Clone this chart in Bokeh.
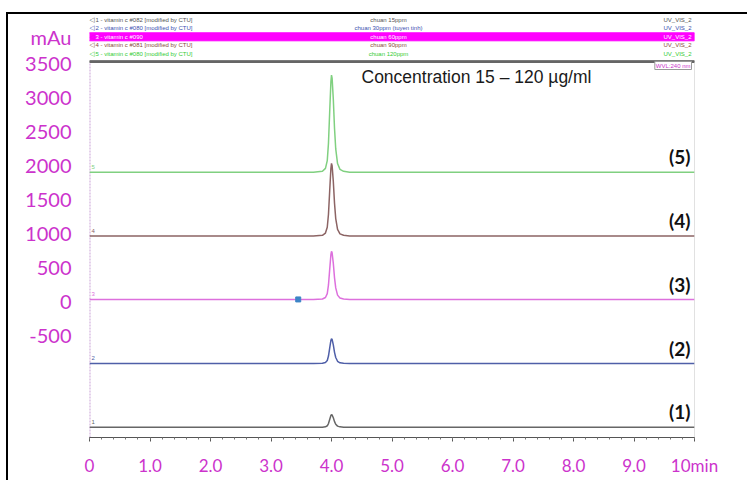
from bokeh.plotting import figure
from bokeh.models import Range1d, FixedTicker, Label
from bokeh.embed import file_html
from bokeh.resources import INLINE
from bokeh.core.properties import value

# ---------------- data ----------------
time_min = [0.0, 3.70, 3.85, 3.90, 3.93, 3.95, 3.97, 3.99, 4.00, 4.01,
            4.03, 4.05, 4.07, 4.10, 4.14, 4.20, 4.30, 10.0]

trace1_15ppm = [-1850, -1850, -1848, -1843, -1828, -1795, -1735, -1678, -1665, -1670,
                -1711, -1767, -1806, -1833, -1844, -1848, -1850, -1850]
trace2_30ppm = [-915, -915, -911, -900, -871, -805, -689, -576, -550, -561,
                -641, -751, -827, -882, -904, -911, -915, -915]
trace3_60ppm = [25, 25, 32, 53, 110, 237, 462, 681, 730, 709,
                554, 342, 194, 88, 46, 32, 25, 25]
trace4_90ppm = [955, 955, 966, 998, 1083, 1275, 1615, 1945, 2020, 1988,
                1754, 1434, 1211, 1051, 987, 966, 955, 955]
trace5_120ppm = [1890, 1890, 1904, 1947, 2061, 2318, 2774, 3215, 3315, 3272,
                 2959, 2531, 2232, 2018, 1933, 1904, 1890, 1890]

traces = [trace1_15ppm, trace2_30ppm, trace3_60ppm, trace4_90ppm, trace5_120ppm]
baselines = [-1850, -915, 25, 955, 1890]
trace_tags = ["(1)", "(2)", "(3)", "(4)", "(5)"]
trace_numbers = ["1", "2", "3", "4", "5"]
trace_colors = ["#666666", "#4f5fa8", "#dd70dd", "#8c6464", "#80d080"]

marker_time = [3.45]
marker_signal = [25]

y_ticks = [-500, 0, 500, 1000, 1500, 2000, 2500, 3000, 3500]
y_tick_labels = ["-500", "0", "500", "1000", "1500", "2000", "2500", "3000", "3500"]
x_ticks = [0, 1, 2, 3, 4, 5, 6, 7, 8, 9, 10]
x_tick_labels = ["0", "1.0", "2.0", "3.0", "4.0", "5.0", "6.0", "7.0", "8.0", "9.0", "10min"]
unit_label = "mAu"

legend_files = ["1 - vitamin c #082 [modified by CTU]",
                "2 - vitamin c #080 [modified by CTU]",
                "3 - vitamin c #090",
                "4 - vitamin c #081 [modified by CTU]",
                "5 - vitamin c #080 [modified by CTU]"]
legend_samples = ["chuan 15ppm", "chuan 30ppm (tuyen tinh)", "chuan 60ppm",
                  "chuan 90ppm", "chuan 120ppm"]
legend_channels = ["UV_VIS_2", "UV_VIS_2", "UV_VIS_2", "UV_VIS_2", "UV_VIS_2"]
legend_text_colors = ["#555555", "#4050b0", "#ffffff", "#8b4a3a", "#33cc33"]
legend_icon_colors = ["#555555", "#4050b0", "#ee00ee", "#8b4a3a", "#33cc33"]

MAGENTA = "#cc33cc"

# ---------------- geometry (page pixels) ----------------
FRAME_L, FRAME_R, FRAME_T, FRAME_B = 89, 694, 15, 437
Y_AT_62, Y_AT_437 = 3500, -2000          # mAu at page y = 62 and 437
UNITS_PER_PX = (Y_AT_62 - Y_AT_437) / (437 - 62)
Y_TOP = Y_AT_62 + (62 - FRAME_T) * UNITS_PER_PX


def py(ypage):
    return Y_AT_62 + (62 - ypage) * UNITS_PER_PX


def px(xpage):
    return (xpage - FRAME_L) * 10.0 / (FRAME_R - FRAME_L)


W, H = 741, 468
p = figure(width=W, height=H, x_range=Range1d(0, 10), y_range=Range1d(Y_AT_437, Y_TOP),
           toolbar_location=None, output_backend="svg", title=None,
           min_border_left=FRAME_L - 8, min_border_right=8 + W - FRAME_R,
           min_border_top=FRAME_T - 14, min_border_bottom=14 + H - FRAME_B)
p.styles = {"margin-left": "6px", "margin-top": "12px",
            "border-left": "2px solid black", "border-top": "2px solid black"}
p.grid.visible = False
p.outline_line_color = None
p.background_fill_color = "white"
p.border_fill_color = "white"

# ----- header (legend rows) inside the top part of the frame -----
row_y = [py(v) for v in (19, 27.5, 36.3, 44.8, 53)]
p.quad(left=[px(88)], right=[10], top=[py(32.3)], bottom=[py(40.3)], color="#ff00ff")
p.text(x=[px(91.5)] * 5, y=row_y, text=["◁"] * 5, text_align="center", text_baseline="middle",
       text_font=value("DejaVu Sans"), text_font_size="7px", text_color=legend_icon_colors)
p.text(x=[px(95)] * 5, y=row_y, text=legend_files, text_align="left", text_baseline="middle",
       text_font=value("Liberation Sans"), text_font_size="6px", text_color=legend_text_colors)
p.text(x=[px(388)] * 5, y=row_y, text=legend_samples, text_align="center", text_baseline="middle",
       text_font=value("Liberation Sans"), text_font_size="6px", text_color=legend_text_colors)
p.text(x=[px(691)] * 5, y=row_y, text=legend_channels, text_align="right", text_baseline="middle",
       text_font=value("Liberation Sans"), text_font_size="6px", text_color=legend_text_colors)
p.quad(left=[0], right=[10], top=[py(60.2)], bottom=[Y_AT_62], color="#666666")

# ----- chart frame lines -----
p.segment(x0=[10], y0=[Y_AT_437], x1=[10], y1=[Y_AT_62], line_color="#c4c4c4", line_width=1)
p.segment(x0=[0], y0=[Y_AT_437], x1=[10], y1=[Y_AT_437], line_color="#c4c4c4", line_width=1)
p.segment(x0=[0], y0=[Y_AT_437], x1=[0], y1=[Y_AT_62], line_color="#c9a3d6",
          line_width=2, line_dash="2 1")

# ----- traces -----
for ys, col in zip(traces, trace_colors):
    p.line(time_min, ys, line_color=col, line_width=1.5)

p.scatter(marker_time, marker_signal, marker="square", size=5, color="#3d85c6")

p.text(x=[px(690)] * 5, y=[b + 225 for b in baselines], text=trace_tags,
       text_align="right", text_baseline="middle",
       text_font=value("Lato"), text_font_style="bold",
       text_font_size="19px", text_color="#111111")
p.text(x=[px(91)] * 5, y=[b + 75 for b in baselines], text=trace_numbers,
       text_align="left", text_baseline="middle",
       text_font=value("Liberation Sans"), text_font_size="6px", text_color=trace_colors)

p.add_layout(Label(x=px(361), y=py(76), text="Concentration 15 – 120 µg/ml",
                   text_align="left", text_baseline="middle",
                   text_font="Liberation Sans", text_font_size="17.5px",
                   text_color="#1a1a1a"))
p.add_layout(Label(x=px(691), y=py(65), text="WVL:240 nm", text_align="right",
                   text_baseline="middle", text_font="Liberation Sans",
                   text_font_size="6px", text_color=MAGENTA,
                   border_line_color="#999999", background_fill_color="white",
                   padding=1))

# ----- x axis -----
xa = p.xaxis[0]
xa.ticker = FixedTicker(ticks=x_ticks, minor_ticks=[i * 0.2 for i in range(51)])
xa.major_label_overrides = {t: lab for t, lab in zip(x_ticks, x_tick_labels)}
xa.major_label_text_color = MAGENTA
xa.major_label_text_font = "Lato"
xa.major_label_text_font_size = "17px"
xa.major_label_standoff = 13
xa.axis_line_color = "#555555"
xa.major_tick_line_color = "#555555"
xa.minor_tick_line_color = "#777777"
xa.major_tick_in = 0
xa.major_tick_out = 4
xa.minor_tick_in = 0
xa.minor_tick_out = 2

# ----- y axis (unit shown as the label of an extra tick at the header row) -----
unit_pos = py(36)
ya = p.yaxis[0]
ya.ticker = FixedTicker(ticks=y_ticks + [unit_pos])
overrides = {t: lab for t, lab in zip(y_ticks, y_tick_labels)}
overrides[unit_pos] = unit_label
ya.major_label_overrides = overrides
ya.major_label_text_color = MAGENTA
ya.major_label_text_font = "Lato"
ya.major_label_text_font_size = "20px"
ya.major_label_standoff = 12
ya.axis_line_color = None
ya.major_tick_line_color = None
ya.minor_tick_line_color = None

open("out.html", "w").write(file_html(p, INLINE))
